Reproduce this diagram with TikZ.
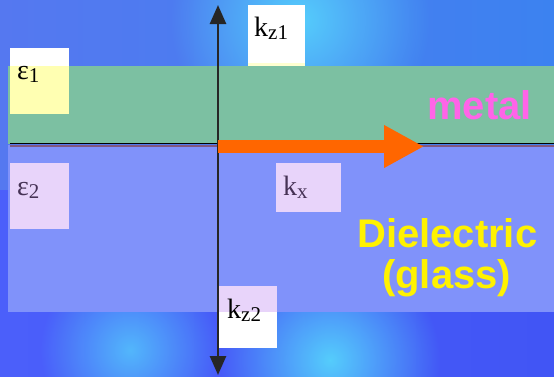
\documentclass[tikz,border=0pt]{standalone}
\usepackage{fontspec}
\setmainfont{Liberation Serif}
\newfontfamily\labelsans{Liberation Sans}
\usetikzlibrary{arrows.meta,fadings}
\definecolor{bgTL}{RGB}{85,120,240}
\definecolor{bgTM}{RGB}{70,170,250}
\definecolor{bgTR}{RGB}{60,130,240}
\definecolor{bgBL}{RGB}{75,95,250}
\definecolor{bgBM}{RGB}{75,170,250}
\definecolor{bgBR}{RGB}{65,85,245}
\definecolor{cyanblob}{RGB}{85,205,252}
\definecolor{metalc}{RGB}{124,192,162}
\definecolor{dielc}{RGB}{128,146,250}
\definecolor{lav}{RGB}{232,212,250}
\definecolor{paleyel}{RGB}{255,255,178}
\definecolor{lavtext}{RGB}{70,50,85}
\definecolor{orangec}{RGB}{255,102,0}
\definecolor{magentac}{RGB}{255,100,232}
\tikzfading[name=softdisc, inner color=transparent!0, outer color=transparent!100]
\newcommand{\mysub}[1]{\raisebox{-0.3ex}{\fontsize{21}{21}\selectfont #1}}
\tikzset{
  lbl/.style={font=\fontsize{28}{28}\selectfont, inner sep=0pt, anchor=base west},
  bigsans/.style={font=\labelsans\bfseries\fontsize{40}{40}\selectfont, inner sep=0pt, anchor=base west},
  blob/.style={fill=cyanblob, path fading=softdisc},
}
\begin{document}
\begin{tikzpicture}[x=1pt,y=-1pt]
\useasboundingbox (0,0) rectangle (554,376);
% background
\shade[left color=bgTL, middle color=bgTM, right color=bgTR] (0,0) rectangle (554,190);
\shade[left color=bgBL, middle color=bgBM, right color=bgBR] (0,190) rectangle (554,376);
\fill[blob] (300,20) circle (130);
\fill[blob] (330,360) circle (110);
\fill[blob, fill opacity=0.8] (130,350) circle (90);
% layers
\fill[metalc] (8,66) rectangle (554,143.5);
\fill[dielc] (8,145) rectangle (554,312);
\draw[gray!70!violet, line width=2pt] (10,146) -- (554,146);
\draw[black, line width=1.4pt] (10,143.5) -- (554,143.5);
% boxes
\fill[white] (10,48) rectangle (69,66);
\fill[paleyel] (10,66) rectangle (69,114);
\fill[white] (248,5) rectangle (305,65);
\fill[paleyel!60!white] (248,63) rectangle (305,66);
\fill[lav] (10,163) rectangle (69,229);
\fill[lav] (276,163) rectangle (341,212);
\fill[lav] (219,286) rectangle (277,312);
\fill[white] (219,312) rectangle (277,348);
% labels
\node[lbl] (e1) at (17,79) {ε\mysub{1}};
\node[lbl] (kz1) at (254,36) {k\mysub{z1}};
\node[lbl, text=lavtext] (e2) at (17,195) {ε\mysub{2}};
\node[lbl, text=lavtext] (kx) at (283,195) {k\mysub{x}};
\node[lbl] (kz2) at (227,318) {k\mysub{z2}};
\node[bigsans, text=magentac] (metal) at (427,119) {metal};
\node[bigsans, text=yellow] (diel) at (357,247) {Dielectric};
\node[bigsans, text=yellow] (glass) at (382,288) {(glass)};
% axes
\coordinate (top) at (218,5);
\coordinate (bot) at (218,375);
\coordinate (O) at (218,146.5);
\coordinate (kxtip) at (424,146.5);
\draw[line width=2.6pt, black!85, {Triangle[width=16pt,length=19pt]}-{Triangle[width=16pt,length=19pt]}] (top) -- (bot);
\draw[orangec, line width=13pt, -{Triangle[width=40pt,length=40pt]}] (O) -- (kxtip);
\end{tikzpicture}
\end{document}
